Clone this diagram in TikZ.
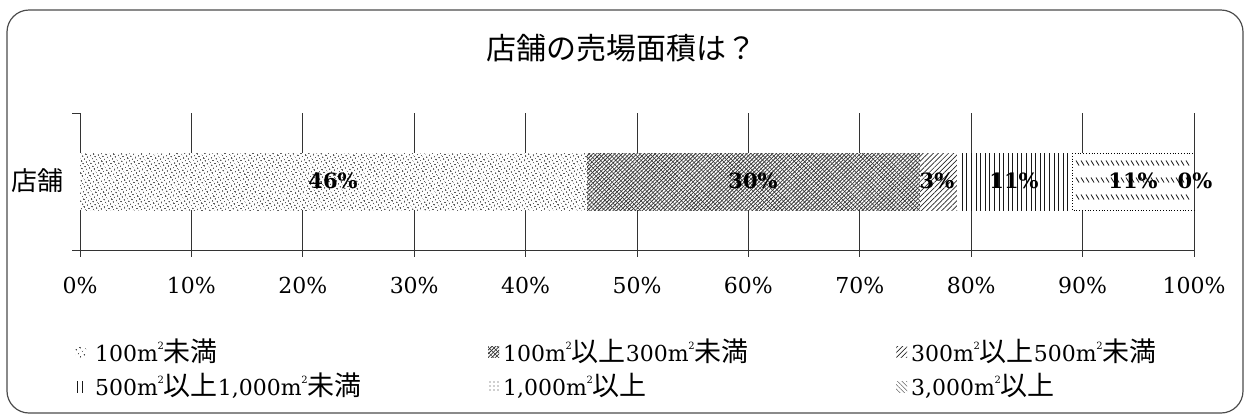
\documentclass[tikz,border=0pt]{standalone}
\usepackage{fontspec}
\setmainfont{DejaVu Serif}
\newfontfamily\jp{Noto Sans CJK JP}
\usetikzlibrary{patterns.meta}
\newcommand\sqm{m\kern-0.5bp\raisebox{1.05ex}{\fontsize{10bp}{11bp}\selectfont 2}}
\newcommand\jpt[1]{{\jp\fontsize{27bp}{30bp}\selectfont #1}}
\begin{document}
\begin{tikzpicture}[x=1bp,y=-1bp,
  frame/.style={rounded corners=22bp,line width=1.2bp,black!70},
  grid/.style={line width=1bp,black!80},
  tick/.style={font=\fontsize{22bp}{26bp}\selectfont,inner sep=0},
  bl/.style={font=\fontsize{21bp}{26bp}\selectfont\bfseries,inner sep=0},
  leg/.style={font=\fontsize{22bp}{28bp}\selectfont,inner sep=0,anchor=west},
  p1/.style={pattern={Dots[distance=4pt,radius=0.8pt,angle=30]},pattern color=black},
  p2a/.style={pattern={Lines[angle=45,distance=2.6pt,line width=0.8pt]},pattern color=black!80},
  p2b/.style={pattern={Lines[angle=-45,distance=3.6pt,line width=0.5pt]},pattern color=black!80},
  p3/.style={pattern={Lines[angle=45,distance=3.6pt,line width=0.7pt]},pattern color=black!85},
  p4/.style={pattern={Lines[angle=90,distance=4.6pt,line width=1pt]},pattern color=black!90},
  p5/.style={pattern={Lines[angle=-45,distance=3.2pt,line width=0.5pt]},pattern color=black!60},
  p6/.style={pattern={Dots[distance=4pt,radius=0.6pt,angle=0]},pattern color=black!80},
]
\useasboundingbox (0,0) rectangle (1250,417);
\draw[frame] (7,10) rectangle (1243,413);
% title
\node[font=\jp\fontsize{30bp}{34bp}\selectfont,inner sep=0] (title) at (621,48) {店舗の売場面積は？};
% grid
\foreach \i in {1,...,10} \draw[grid] ({80+111.4*\i},113) -- ({80+111.4*\i},257);
\draw[grid] (80,113) -- (80,257);
\draw[grid] (72,113) -- (80,113);
\draw[grid] (72,250) -- (1194,250);
% bars
\path[fill=white] (80,153) rectangle (1194,210);
\path[p1] (80,153) rectangle (587,210);
\path[fill=white] (587,153) rectangle (920,210);
\path[p2a] (587,153) rectangle (920,210);
\path[p2b] (587,153) rectangle (920,210);
\path[fill=white] (920,153) rectangle (957,210);
\path[p3] (920,153) rectangle (957,210);
\path[fill=white] (957,153) rectangle (1071,210);
\path[p4] (959,153) rectangle (1069,210);
\path[fill=white] (1071,153) rectangle (1194,210);
\draw[dotted,line width=0.8bp] (1072,153) -- (1194,153) (1072,153) -- (1072,210) -- (1194,210);
\foreach \y in {163,180,197}
  \foreach \x in {1076,1081,...,1190}
    \draw[line width=0.8bp,black!90] (\x,\y-2.5) -- (\x+3,\y+2.5);
% bar labels
\node[bl] (l1) at (333,181) {46\%};
\node[bl] (l2) at (753,181) {30\%};
\node[bl] (l3) at (937,181) {3\%};
\node[bl] (l4) at (1014,181) {11\%};
\node[bl] (l5) at (1133,181) {11\%};
\node[bl] (l6) at (1195,181) {0\%};
% category label
\node[font=\jp\fontsize{26bp}{30bp}\selectfont,inner sep=0] (cat) at (37,181) {店舗};
% tick labels
\foreach \i in {0,...,10} {
  \pgfmathtruncatemacro\v{10*\i}
  \node[tick] (t\i) at ({80+111.4*\i},285) {\v\%};
}
% legend swatches
\path[p1] (75,346) rectangle (86,357);
\path[p2a] (488,346) rectangle (499,357);
\path[p2b] (488,346) rectangle (499,357);
\path[p3] (896,346) rectangle (907,357);
\path[p4] (76,381) rectangle (86,392);
\path[p6] (488,381) rectangle (499,392);
\path[p5] (896,381) rectangle (907,392);
% legend texts
\node[leg] (g1) at (95,351) {100\sqm\jpt{未満}};
\node[leg] (g2) at (503,351) {100\sqm\jpt{以上}300\sqm\jpt{未満}};
\node[leg] (g3) at (911,351) {300\sqm\jpt{以上}500\sqm\jpt{未満}};
\node[leg] (g4) at (95,386) {500\sqm\jpt{以上}1,000\sqm\jpt{未満}};
\node[leg] (g5) at (503,386) {1,000\sqm\jpt{以上}};
\node[leg] (g6) at (911,386) {3,000\sqm\jpt{以上}};
\end{tikzpicture}
\end{document}
